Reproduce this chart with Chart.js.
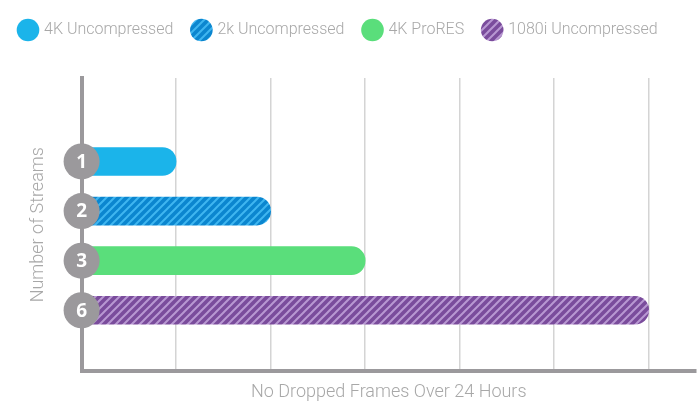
<!DOCTYPE html>
<html>
<head>
<meta charset="utf-8">
<script src="https://cdn.jsdelivr.net/npm/chart.js@4"></script>
<style>
  body { margin: 0; background: #fff; }
  #wrap { width: 700px; height: 411px; }
</style>
</head>
<body>
<div id="wrap"><canvas id="chart"></canvas></div>
<script>
const categories = ["1", "2", "3", "6"];
const seriesNames = ["4K Uncompressed", "2k Uncompressed", "4K ProRES", "1080i Uncompressed"];
const streamValues = [1, 2, 3, 6];
const xTicks = [0, 1, 2, 3, 4, 5, 6];

// diagonal stripe pattern
function stripes(base, line) {
    const c = document.createElement('canvas');
    c.width = 8; c.height = 8;
    const g = c.getContext('2d');
    g.fillStyle = base;
    g.fillRect(0, 0, 8, 8);
    g.strokeStyle = line;
    g.lineWidth = 2;
    g.beginPath();
    g.moveTo(-2, 10); g.lineTo(10, -2);
    g.moveTo(-6, 6); g.lineTo(6, -6);
    g.moveTo(2, 14); g.lineTo(14, 2);
    g.stroke();
    return g.createPattern(c, 'repeat');
}

const fills = [
    "#1bb4ea",
    stripes("#0b86cf", "#3fb6f0"),
    "#5ade7b",
    stripes("#7a4c9c", "#b898d2")
];

const datasets = seriesNames.map(function (name, i) {
    return {
        label: name,
        data: [{ y: i, x: streamValues[i] }],
        backgroundColor: fills[i],
        borderRadius: 14,
        borderSkipped: 'start',
        barThickness: 28,
        grouped: false
    };
});

const circleLabels = {
    id: 'circleLabels',
    beforeInit(chart) {
        const fit = chart.legend.fit;
        chart.legend.fit = function () {
            fit.bind(chart.legend)();
            this.height += 30;
        };
    },
    afterDatasetsDraw(chart) {
        const ctx = chart.ctx;
        const y = chart.scales.y;
        const x0 = chart.chartArea.left;
        ctx.save();
        categories.forEach(function (c, i) {
            const py = y.getPixelForValue(i);
            ctx.beginPath();
            ctx.arc(x0, py, 18, 0, Math.PI * 2);
            ctx.fillStyle = "#9b999c";
            ctx.fill();
            ctx.fillStyle = "#fff";
            ctx.font = "bold 19px 'Open Sans'";
            ctx.textAlign = 'center';
            ctx.textBaseline = 'middle';
            ctx.fillText(c, x0, py + 1);
        });
        ctx.restore();
    }
};

new Chart(document.getElementById('chart'), {
    type: 'bar',
    data: { datasets: datasets },
    plugins: [circleLabels],
    options: {
        indexAxis: 'y',
        responsive: true,
        maintainAspectRatio: false,
        animation: false,
        layout: { padding: { left: 0, right: 4, top: 2, bottom: 4 } },
        plugins: {
            tooltip: { enabled: false },
            legend: {
                position: 'top',
                align: 'start',
                labels: {
                    usePointStyle: true,
                    pointStyle: 'circle',
                    boxWidth: 22,
                    boxHeight: 22,
                    padding: 20,
                    color: "#a8a8a8",
                    font: { family: "Roboto", size: 16, weight: '300' }
                }
            }
        },
        scales: {
            x: {
                min: 0,
                max: 6.5,
                afterBuildTicks: function (s) { s.ticks = xTicks.map(function (v) { return { value: v }; }); },
                ticks: { display: false },
                grid: { color: "#d4d4d4", lineWidth: 1.5, drawTicks: false },
                border: { color: "#9b999c", width: 4 },
                title: {
                    display: true,
                    text: "No Dropped Frames Over 24 Hours",
                    color: "#a8a8a8",
                    font: { family: "Roboto", size: 18, weight: '300' },
                    padding: { top: 10 }
                }
            },
            y: {
                type: 'linear',
                reverse: true,
                min: -1.19,
                max: 3.74,
                ticks: { display: false },
                grid: { display: false, drawTicks: false },
                border: { color: "#9b999c", width: 4 },
                title: {
                    display: true,
                    text: "Number of Streams",
                    color: "#a8a8a8",
                    font: { family: "Roboto", size: 18, weight: '300' },
                    padding: { top: 28, bottom: 32 }
                }
            }
        }
    }
});
</script>
</body>
</html>
